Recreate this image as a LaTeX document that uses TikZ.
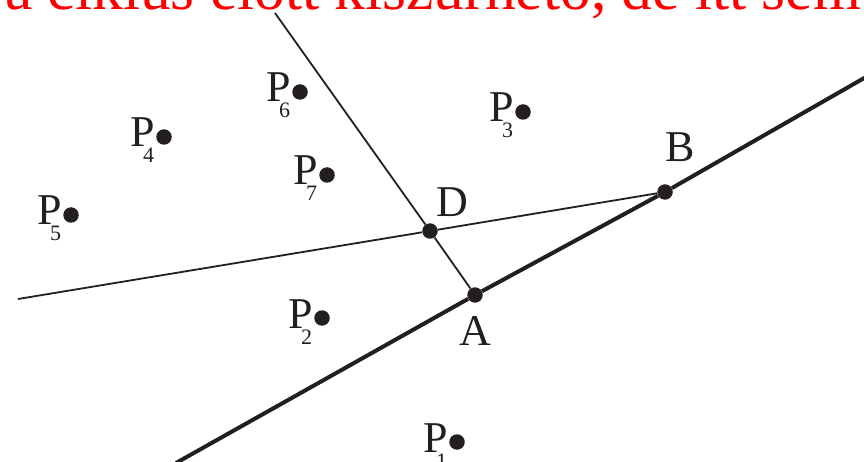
\documentclass[tikz,border=0pt]{standalone}
\usepackage{fontspec}
\setmainfont{Liberation Serif}
\definecolor{ink}{HTML}{231F20}
\definecolor{redtxt}{HTML}{FF0000}
\newcommand{\plabel}[1]{P\kern-11.5pt\raisebox{-16pt}{\fontsize{22}{22}\selectfont #1}}
\begin{document}
\begin{tikzpicture}[x=1pt,y=-1pt,
  dot/.style={circle,fill=ink,draw=none,inner sep=0pt,minimum size=15.5pt},
  plab/.style={anchor=base west,inner sep=0pt,text=ink,font=\fontsize{44}{44}\selectfont},
  thinline/.style={draw=ink,line width=1.8pt},
  thickline/.style={draw=ink,line width=4pt},
  caption/.style={anchor=base west,inner sep=0pt,text=redtxt,font=\fontsize{61.5}{70}\selectfont}]
\useasboundingbox (0,0) rectangle (864,462);
\clip (0,0) rectangle (864,462);
% red caption (cut by the top edge)
\node[caption] (cap) at (5,10) {a ciklus előtt kiszűrhető, de itt sem};
% points
\node[dot] (P1) at (457,442) {};
\node[dot] (P2) at (322,318) {};
\node[dot] (P3) at (523,112) {};
\node[dot] (P4) at (164,137) {};
\node[dot] (P5) at (71,215) {};
\node[dot] (P6) at (300,92) {};
\node[dot] (P7) at (327,175) {};
\node[dot] (A) at (475,295) {};
\node[dot] (B) at (665,192) {};
\node[dot] (D) at (430,231) {};
% labels
\node[plab] (lP1) at (423,452) {\plabel{1}};
\node[plab] (lP2) at (288,328) {\plabel{2}};
\node[plab] (lP3) at (489,122) {\plabel{3}};
\node[plab] (lP4) at (130,147) {\plabel{4}};
\node[plab] (lP5) at (37,225) {\plabel{5}};
\node[plab] (lP6) at (266,102) {\plabel{6}};
\node[plab] (lP7) at (293,185) {\plabel{7}};
\node[plab] (lA) at (459,345) {A};
\node[plab] (lB) at (665,162) {B};
\node[plab] (lD) at (436,217) {D};
% free ends
\coordinate (tl) at (176,463);
\coordinate (tr) at (866,77);
\coordinate (hl) at (18,299);
\coordinate (vt) at (275,13);
% connectors
\draw[thickline] (tl) -- (A) -- (B) -- (tr);
\draw[thinline] (hl) -- (D) -- (B);
\draw[thinline] (vt) -- (D) -- (A);
\end{tikzpicture}
\end{document}
